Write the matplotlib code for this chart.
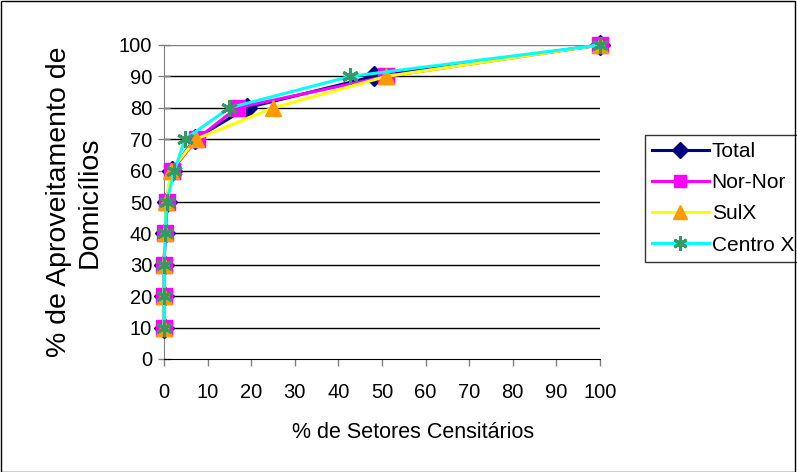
import matplotlib.pyplot as plt
from matplotlib.patches import Rectangle

plt.rcParams['font.family'] = ['Liberation Sans', 'DejaVu Sans']

# % de aproveitamento (eixo y)
niveis = [10, 20, 30, 40, 50, 60, 70, 80, 90, 100]

# % de setores censitários (eixo x) por série
total = [0, 0, 0, 0.3, 0.6, 1.8, 7.0, 19.0, 48.2, 100]
nor_nor = [0, 0, 0, 0.3, 0.6, 1.8, 7.5, 16.7, 51.0, 100]
sulx = [0, 0, 0, 0.2, 0.5, 1.6, 7.3, 25.0, 51.0, 100]
centro_x = [0, 0, 0, 0.3, 0.6, 2.4, 4.8, 15.0, 42.7, 100]

fig = plt.figure(figsize=(7.97, 4.72), dpi=100)
ax = fig.add_axes([164 / 797, 1 - 359 / 472, 436 / 797, 314 / 472])

# Gridlines horizontais
for y in range(10, 101, 10):
    ax.axhline(y, color='gray' if y == 100 else 'black', linewidth=1, zorder=1)

estilo = dict(linewidth=2.2, clip_on=False)
ax.plot(total, niveis, color='#000080', marker='D', markersize=10,
        markerfacecolor='#000080', markeredgecolor='#000080', label='Total', zorder=3, **estilo)
ax.plot(nor_nor, niveis, color='#FF00FF', marker='s', markersize=11,
        markerfacecolor='#FF00FF', markeredgecolor='#FF00FF', label='Nor-Nor', zorder=4, **estilo)
ax.plot(sulx, niveis, color='#FFFF00', marker='^', markersize=12,
        markerfacecolor='#FF9900', markeredgecolor='#FF9900', label='SulX', zorder=5, **estilo)
ax.plot(centro_x, niveis, color='#00FFFF', marker=(6, 2, 0), markersize=12,
        markeredgewidth=2.2, markeredgecolor='#339966', label='Centro X', zorder=6, **estilo)

ax.set_xlim(0, 100)
ax.set_ylim(0, 100)
ax.set_xticks(range(0, 101, 10))
ax.set_yticks(range(0, 101, 10))
ax.tick_params(axis='y', direction='inout', length=9, width=1, labelsize=14.5, color='gray', pad=4)
ax.tick_params(axis='x', direction='out', length=5, width=1, labelsize=14.5, color='gray', pad=12)
for s in ['top', 'right']:
    ax.spines[s].set_visible(False)
ax.spines['left'].set_color('gray')
ax.spines['bottom'].set_color('black')
ax.set_xlabel('% de Setores Censitários', fontsize=15.5)
ax.xaxis.set_label_coords(0.571, -0.2)
ax.set_ylabel('% de Aproveitamento de\nDomicílios', fontsize=20.5, labelpad=12)

leg = ax.legend(loc='upper left', bbox_to_anchor=(645 / 797, 1 - 135 / 472),
                bbox_transform=fig.transFigure, fontsize=15, frameon=True,
                fancybox=False, edgecolor='black', handlelength=2.7, markerscale=0.85,
                borderpad=0.35, labelspacing=0.58, handletextpad=0.15, borderaxespad=0)
leg.get_frame().set_linewidth(1)

# Borda externa
fig.patches.append(Rectangle((0.001, 0.001), 0.997, 0.997, transform=fig.transFigure,
                             fill=False, edgecolor='black', linewidth=1))

fig.savefig('out.png', dpi=100)
